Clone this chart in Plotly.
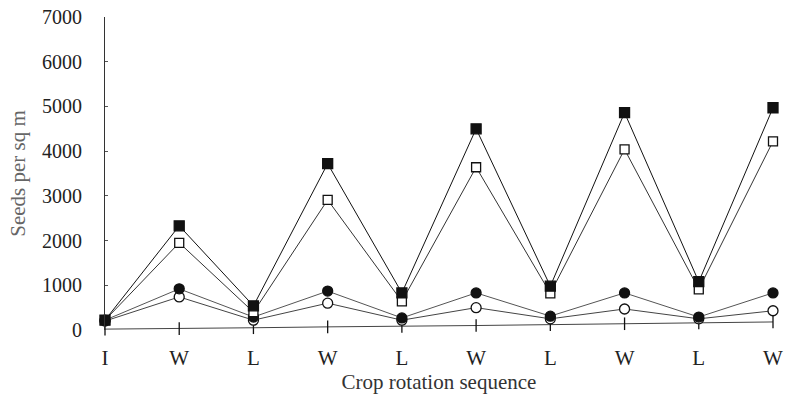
import plotly.graph_objects as go

categories = ["I", "W", "L", "W", "L", "W", "L", "W", "L", "W"]
filled_squares = [220, 2330, 540, 3720, 830, 4500, 980, 4860, 1080, 4970]
open_squares = [220, 1950, 400, 2910, 640, 3640, 820, 4040, 910, 4220]
filled_circles = [220, 920, 290, 870, 270, 830, 310, 830, 290, 830]
open_circles = [200, 740, 220, 600, 220, 500, 250, 470, 250, 430]
bottom_series = [20, 30, 50, 70, 80, 100, 120, 140, 160, 180]
y_ticks = [0, 1000, 2000, 3000, 4000, 5000, 6000, 7000]

x = list(range(len(categories)))
fig = go.Figure()

def add(vals, symbol, size, color, lw=1, lcolor="#222"):
    fig.add_trace(go.Scatter(
        x=x, y=vals, mode="lines+markers",
        line=dict(color=lcolor, width=lw),
        marker=dict(symbol=symbol, size=size, color=color,
                    line=dict(color="#111", width=1.3)),
        cliponaxis=False, showlegend=False))

add(bottom_series, "line-ns", 9, "#111", lcolor="#444")
add(open_circles, "circle", 10, "white", lcolor="#444")
add(filled_circles, "circle", 10, "#111", lcolor="#555")
add(open_squares, "square", 9, "white", lcolor="#333")
add(filled_squares, "square", 10, "#111", lcolor="#111")

serif = "Liberation Serif"
fig.update_layout(
    width=788, height=409,
    margin=dict(l=105, r=15, t=17, b=79),
    paper_bgcolor="white", plot_bgcolor="white",
    font=dict(family=serif, color="#222"),
    xaxis=dict(
        range=[0, 9], tickmode="array", tickvals=x, ticktext=categories,
        showline=False, showgrid=False, zeroline=False, ticks="", automargin=False,
        tickfont=dict(size=21, family=serif), ticklabelstandoff=13,
        title=dict(text="Crop rotation sequence", font=dict(size=21, family=serif, color="#333"), standoff=5),
    ),
    yaxis=dict(
        range=[0, 7000], tickmode="array", tickvals=y_ticks,
        ticktext=[str(v) for v in y_ticks], automargin=False,
        showline=True, linecolor="#333", linewidth=1,
        showgrid=False, zeroline=False, ticks="inside", ticklen=3, tickcolor="#555",
        tickfont=dict(size=20, family=serif), ticklabelstandoff=18,
        title=dict(text="Seeds per sq m", font=dict(size=21, family=serif, color="#666"), standoff=10),
    ),
)
fig.write_html(
    "out.html",
    config={"displayModeBar": False},
    post_script="document.body.style.margin='0';document.body.style.overflow='hidden';",
)
